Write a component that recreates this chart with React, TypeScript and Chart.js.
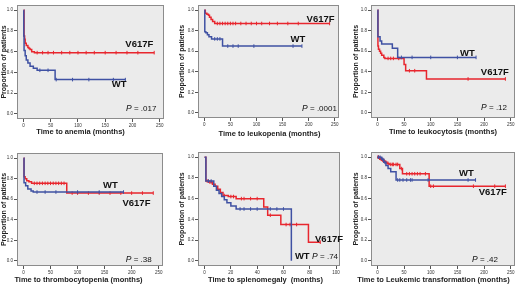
import React, { useEffect, useRef } from "react";
import { Chart, registerables } from "chart.js";

Chart.register(...registerables);

const RED = "#e8262e";
const BLUE = "#3f51a3";
const PANEL_BG = "#ebebeb";
const FONT = "'Liberation Sans', Arial, Helvetica, sans-serif";

const yTicks = [0, 0.2, 0.4, 0.6, 0.8, 1.0];
const xTicks250 = [0, 50, 100, 150, 200, 250];
const xTicks100 = [0, 20, 40, 60, 80, 100];
const yTitle = "Proportion of patients";
const mutLabel = "V617F";
const wtLabel = "WT";

// Panel 1: anemia
const anemiaTitle = "Time to anemia (months)";
const anemiaP = ".017";
const anemiaMutT = [0, 1, 2, 3, 5, 8, 10, 12, 15, 20];
const anemiaMutS = [1.0, 0.75, 0.72, 0.68, 0.66, 0.64, 0.63, 0.62, 0.6, 0.59];
const anemiaMutC = [25, 35, 45, 55, 70, 85, 100, 115, 130, 150, 170, 190, 210, 240];
const anemiaWtT = [0, 0.5, 1, 3, 5, 8, 12, 18, 25, 58];
const anemiaWtS = [1.0, 0.75, 0.61, 0.56, 0.52, 0.49, 0.46, 0.44, 0.42, 0.33];
const anemiaWtC = [30, 45, 60, 90, 120, 165, 187];

// Panel 2: leukopenia
const leukopeniaTitle = "Time to leukopenia (months)";
const leukopeniaP = ".0001";
const leukopeniaMutT = [0, 2, 5, 8, 10, 13, 16, 20];
const leukopeniaMutS = [1.0, 0.97, 0.96, 0.95, 0.93, 0.91, 0.89, 0.87];
const leukopeniaMutC = [25, 30, 35, 40, 45, 50, 55, 60, 70, 80, 90, 100, 110, 125, 140, 160, 180, 240];
const leukopeniaWtT = [0, 1, 3, 6, 9, 14, 35];
const leukopeniaWtS = [1.0, 0.79, 0.78, 0.76, 0.74, 0.72, 0.65];
const leukopeniaWtC = [20, 25, 30, 45, 55, 65, 95, 170, 187];

// Panel 3: leukocytosis
const leukocytosisTitle = "Time to leukocytosis (months)";
const leukocytosisP = ".12";
const leukocytosisMutT = [0, 1, 2, 4, 6, 8, 12, 14, 50, 53, 92];
const leukocytosisMutS = [1.0, 0.65, 0.62, 0.6, 0.58, 0.56, 0.54, 0.53, 0.47, 0.41, 0.33];
const leukocytosisMutC = [20, 25, 30, 40, 60, 70, 170, 240];
const leukocytosisWtT = [0, 1, 5, 8, 28, 38];
const leukocytosisWtS = [1.0, 0.74, 0.7, 0.67, 0.63, 0.54];
const leukocytosisWtC = [45, 65, 100, 150, 185];

// Panel 4: thrombocytopenia
const thromboTitle = "Time to thrombocytopenia (months)";
const thromboP = ".38";
const thromboMutT = [0, 1, 3, 6, 10, 15, 80];
const thromboMutS = [1.0, 0.82, 0.8, 0.78, 0.77, 0.755, 0.66];
const thromboMutC = [20, 25, 30, 35, 40, 45, 50, 55, 60, 65, 70, 75, 90, 100, 120, 140, 160, 180, 200, 220, 240];
const thromboWtT = [0, 1, 4, 8, 14, 18];
const thromboWtS = [1.0, 0.76, 0.73, 0.7, 0.68, 0.67];
const thromboWtC = [25, 40, 60, 100, 140, 185];

// Panel 5: splenomegaly
const splenoTitle = "Time to splenomegaly  (months)";
const splenoP = ".74";
const splenoMutT = [0, 1, 3, 6, 8, 10, 12, 14, 18, 24, 45, 48, 58, 79];
const splenoMutS = [1.0, 0.77, 0.76, 0.74, 0.72, 0.69, 0.66, 0.63, 0.62, 0.6, 0.52, 0.44, 0.35, 0.18];
const splenoMutC = [2, 4, 5, 15, 20, 22, 28, 30, 35, 40, 50, 62, 65, 70, 88];
const splenoWtT = [0, 1, 7, 9, 11, 13, 15, 17, 20, 24, 66];
const splenoWtS = [1.0, 0.77, 0.72, 0.68, 0.65, 0.62, 0.59, 0.56, 0.53, 0.5, 0.0];
const splenoWtC = [3, 5, 27, 30, 35, 40, 50, 55, 60];

// Panel 6: leukemic transformation
const leukemicTitle = "Time to Leukemic transformation (months)";
const leukemicP = ".42";
const leukemicMutT = [0, 3, 6, 9, 12, 15, 18, 22, 42, 47, 97];
const leukemicMutS = [1.0, 0.99, 0.98, 0.97, 0.96, 0.95, 0.94, 0.93, 0.89, 0.84, 0.72];
const leukemicMutC = [1, 2, 4, 5, 7, 8, 10, 11, 13, 16, 20, 25, 28, 30, 35, 38, 45, 55, 60, 65, 70, 75, 80, 90, 100, 105, 180, 220, 240];
const leukemicWtT = [0, 8, 12, 16, 20, 25, 35];
const leukemicWtS = [1.0, 0.98, 0.95, 0.92, 0.89, 0.86, 0.78];
const leukemicWtC = [2, 5, 10, 14, 38, 42, 48, 55, 62, 65, 95, 170, 184];

type PanelDef = {
  title: string;
  p: string;
  xTicks: number[];
  xMin: number;
  xMax: number;
  mutT: number[]; mutS: number[]; mutC: number[];
  wtT: number[]; wtS: number[]; wtC: number[];
  mutPos: [number, number];
  wtPos: [number, number];
  pPos: [number, number];
  box: { left: number; top: number; w: number; h: number; yW: number; xH: number; padTop: number; padRight: number; yTitlePad: number; xTitleY: number; xTitleCx: number };
};

const panels: PanelDef[] = [
  {
    title: anemiaTitle, p: anemiaP, xTicks: xTicks250, xMin: -12, xMax: 258,
    mutT: anemiaMutT, mutS: anemiaMutS, mutC: anemiaMutC, wtT: anemiaWtT, wtS: anemiaWtS, wtC: anemiaWtC,
    mutPos: [187, 0.67], wtPos: [162, 0.283], pPos: [244, 0.047],
    box: { left: 0, top: 0, w: 172, h: 143, yW: 17, xH: 24, padTop: 2, padRight: 8, yTitlePad: 0, xTitleY: 132, xTitleCx: 80.5 },
  },
  {
    title: leukopeniaTitle, p: leukopeniaP, xTicks: xTicks250, xMin: -12, xMax: 258,
    mutT: leukopeniaMutT, mutS: leukopeniaMutS, mutC: leukopeniaMutC, wtT: leukopeniaWtT, wtS: leukopeniaWtS, wtC: leukopeniaWtC,
    mutPos: [196, 0.914], wtPos: [165, 0.714], pPos: [254, 0.038],
    box: { left: 172, top: 0, w: 173, h: 143, yW: 26, xH: 25, padTop: 2, padRight: 6, yTitlePad: 6, xTitleY: 134, xTitleCx: 97.5 },
  },
  {
    title: leukocytosisTitle, p: leukocytosisP, xTicks: xTicks250, xMin: -12, xMax: 258,
    mutT: leukocytosisMutT, mutS: leukocytosisMutS, mutC: leukocytosisMutC, wtT: leukocytosisWtT, wtS: leukocytosisWtS, wtC: leukocytosisWtC,
    mutPos: [194, 0.396], wtPos: [155, 0.575], pPos: [243, 0.047],
    box: { left: 345, top: 0, w: 175, h: 143, yW: 26, xH: 25, padTop: 2, padRight: 5, yTitlePad: 7, xTitleY: 132, xTitleCx: 98 },
  },
  {
    title: thromboTitle, p: thromboP, xTicks: xTicks250, xMin: -12, xMax: 258,
    mutT: thromboMutT, mutS: thromboMutS, mutC: thromboMutC, wtT: thromboWtT, wtS: thromboWtS, wtC: thromboWtC,
    mutPos: [183, 0.563], wtPos: [147, 0.738], pPos: [237, 0.01],
    box: { left: 0, top: 143, w: 172, h: 144, yW: 17, xH: 21, padTop: 10, padRight: 9, yTitlePad: 0, xTitleY: 137, xTitleCx: 78.5 },
  },
  {
    title: splenoTitle, p: splenoP, xTicks: xTicks100, xMin: -5, xMax: 103,
    mutT: splenoMutT, mutS: splenoMutS, mutC: splenoMutC, wtT: splenoWtT, wtS: splenoWtS, wtC: splenoWtC,
    mutPos: [84, 0.204], wtPos: [68.7, 0.039], pPos: [101.5, 0.039],
    box: { left: 172, top: 143, w: 173, h: 144, yW: 26, xH: 21, padTop: 9, padRight: 5, yTitlePad: 6, xTitleY: 137, xTitleCx: 93.5 },
  },
  {
    title: leukemicTitle, p: leukemicP, xTicks: xTicks250, xMin: -12, xMax: 258,
    mutT: leukemicMutT, mutS: leukemicMutS, mutC: leukemicMutC, wtT: leukemicWtT, wtS: leukemicWtS, wtC: leukemicWtC,
    mutPos: [190, 0.66], wtPos: [153, 0.845], pPos: [226, 0.01],
    box: { left: 345, top: 143, w: 175, h: 144, yW: 26, xH: 21, padTop: 9, padRight: 4, yTitlePad: 7, xTitleY: 137, xTitleCx: 88.5 },
  },
];

function stepAt(T: number[], S: number[], t: number): number {
  let v = S[0];
  for (let i = 0; i < T.length; i++) if (T[i] <= t) v = S[i];
  return v;
}

function curvePoints(T: number[], S: number[], C: number[]) {
  const pts = T.map((t, i) => ({ x: t, y: S[i] }));
  const end = Math.max(T[T.length - 1], ...C);
  if (end > T[T.length - 1]) pts.push({ x: end, y: S[S.length - 1] });
  return pts;
}

function censorPoints(T: number[], S: number[], C: number[]) {
  return C.map((c) => ({ x: c, y: stepAt(T, S, c) }));
}

function Panel({ def }: { def: PanelDef }) {
  const ref = useRef<HTMLCanvasElement | null>(null);
  useEffect(() => {
    const canvas = ref.current;
    if (!canvas) return;
    const b = def.box;
    const decor = {
      id: "kmDecor",
      beforeDatasetsDraw(chart: any) {
        const { ctx, chartArea: a } = chart;
        ctx.save();
        ctx.fillStyle = PANEL_BG;
        ctx.fillRect(a.left, a.top, a.right - a.left, a.bottom - a.top);
        ctx.strokeStyle = "#8c8c8c";
        ctx.lineWidth = 1;
        ctx.strokeRect(Math.round(a.left) + 0.5, Math.round(a.top) + 0.5, Math.round(a.right - a.left) - 1, Math.round(a.bottom - a.top) - 1);
        ctx.restore();
      },
      afterDatasetsDraw(chart: any) {
        const { ctx, scales } = chart;
        const xs = scales.x, ys = scales.y;
        ctx.save();
        ctx.fillStyle = "#111";
        ctx.textBaseline = "middle";
        ctx.textAlign = "left";
        ctx.font = `bold 9.5px ${FONT}`;
        ctx.fillText(mutLabel, xs.getPixelForValue(def.mutPos[0]), ys.getPixelForValue(def.mutPos[1]));
        ctx.fillText(wtLabel, xs.getPixelForValue(def.wtPos[0]), ys.getPixelForValue(def.wtPos[1]));
        // P value
        const rx = xs.getPixelForValue(def.pPos[0]);
        const py = ys.getPixelForValue(def.pPos[1]);
        ctx.font = `8px ${FONT}`;
        const rest = ` = ${def.p}`;
        const wRest = ctx.measureText(rest).width;
        ctx.font = `italic 8.5px ${FONT}`;
        const wP = ctx.measureText("P").width;
        ctx.fillText("P", rx - wRest - wP, py);
        ctx.font = `8px ${FONT}`;
        ctx.fillText(rest, rx - wRest, py);
        // x title
        ctx.font = `bold 7.5px ${FONT}`;
        ctx.textAlign = "center";
        ctx.fillStyle = "#222";
        ctx.fillText(def.title, b.xTitleCx, b.xTitleY);
        ctx.restore();
      },
    };

    const chart = new Chart(canvas, {
      type: "line",
      data: {
        datasets: [
          {
            label: wtLabel,
            data: curvePoints(def.wtT, def.wtS, def.wtC),
            borderColor: BLUE,
            borderWidth: 1.5,
            stepped: "before",
            pointRadius: 0,
            fill: false,
          },
          {
            label: wtLabel + " censored",
            data: censorPoints(def.wtT, def.wtS, def.wtC),
            showLine: false,
            borderColor: BLUE,
            backgroundColor: BLUE,
            pointStyle: "line",
            rotation: 90,
            pointRadius: 1.8,
            pointBorderWidth: 1,
          },
          {
            label: mutLabel,
            data: curvePoints(def.mutT, def.mutS, def.mutC),
            borderColor: RED,
            borderWidth: 1.5,
            stepped: "before",
            pointRadius: 0,
            fill: false,
          },
          {
            label: mutLabel + " censored",
            data: censorPoints(def.mutT, def.mutS, def.mutC),
            showLine: false,
            borderColor: RED,
            backgroundColor: RED,
            pointStyle: "line",
            rotation: 90,
            pointRadius: 1.8,
            pointBorderWidth: 1,
          },
        ] as any,
      },
      options: {
        animation: false,
        responsive: false,
        devicePixelRatio: 1,
        events: [],
        layout: { padding: { top: b.padTop, right: b.padRight, left: 0, bottom: 0 } },
        plugins: { legend: { display: false }, tooltip: { enabled: false } },
        scales: {
          x: {
            type: "linear",
            min: def.xMin,
            max: def.xMax,
            afterBuildTicks: (s: any) => {
              s.ticks = def.xTicks.map((v) => ({ value: v }));
            },
            afterFit: (s: any) => {
              s.height = b.xH;
              s.paddingLeft = 0;
              s.paddingRight = 0;
            },
            ticks: { font: { size: 4.5, family: FONT }, color: "#333", padding: 1, maxRotation: 0, autoSkip: false },
            grid: { display: true, drawOnChartArea: false, drawTicks: true, tickLength: 3, color: "#555" },
            border: { display: false },
            title: { display: false },
          },
          y: {
            type: "linear",
            min: -0.05,
            max: 1.05,
            afterBuildTicks: (s: any) => {
              s.ticks = yTicks.map((v) => ({ value: v }));
            },
            afterFit: (s: any) => {
              s.width = b.yW;
              s.paddingTop = 0;
              s.paddingBottom = 0;
            },
            ticks: {
              font: { size: 4.5, family: FONT },
              color: "#333",
              padding: 1,
              autoSkip: false,
              callback: (v: any) => Number(v).toFixed(1),
            },
            grid: { display: true, drawOnChartArea: false, drawTicks: true, tickLength: 3, color: "#555" },
            border: { display: false },
            title: {
              display: true,
              text: yTitle,
              color: "#222",
              font: { size: 7, weight: "bold", family: FONT },
              padding: { top: b.yTitlePad, bottom: 0 },
            },
          },
        },
      } as any,
      plugins: [decor],
    });
    return () => chart.destroy();
  }, [def]);

  const b = def.box;
  return (
    <canvas
      ref={ref}
      width={b.w}
      height={b.h}
      style={{ position: "absolute", left: b.left, top: b.top, width: b.w, height: b.h }}
    />
  );
}

export default function App() {
  return (
    <div style={{ position: "fixed", left: 0, top: 0, width: 520, height: 287, background: "#fff", overflow: "hidden" }}>
      {panels.map((p, i) => (
        <Panel key={i} def={p} />
      ))}
    </div>
  );
}
